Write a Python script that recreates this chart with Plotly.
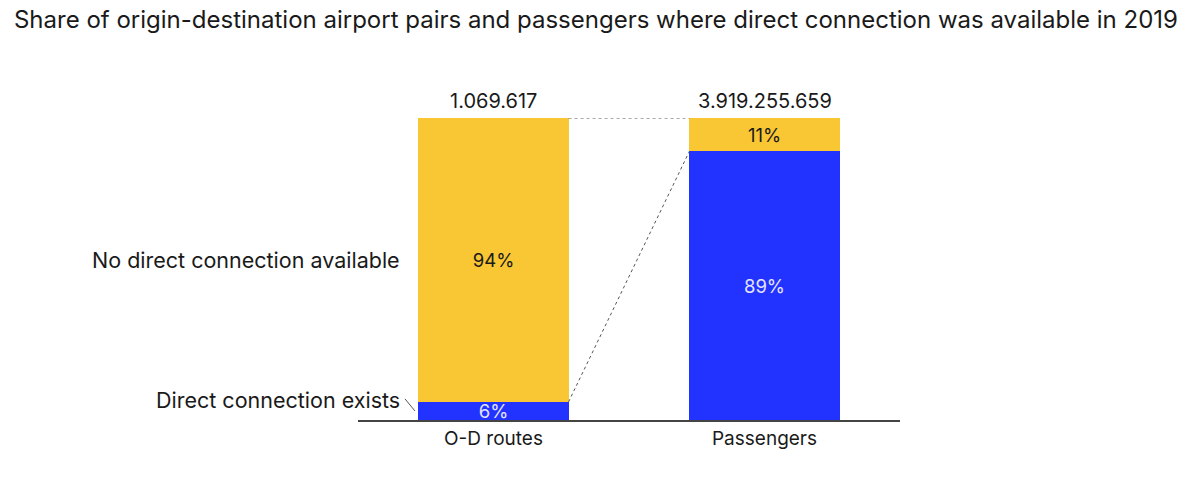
import plotly.graph_objects as go

categories = ["O-D routes", "Passengers"]
direct_share = [6, 89]
no_direct_share = [94, 11]
totals = ["1.069.617", "3.919.255.659"]
series_names = ["Direct connection exists", "No direct connection available"]

YELLOW = "#F9C733"
BLUE = "#2233FF"
FONT = "Inter"
DARK = "#1a1a1a"
bar_w = 0.554

fig = go.Figure()
fig.add_trace(go.Bar(
    x=categories, y=direct_share, width=bar_w, name=series_names[0],
    marker=dict(color=BLUE, line=dict(width=0)),
    text=[f"{v}%" for v in direct_share], textposition="inside",
    insidetextanchor="middle", textangle=0,
    textfont=dict(color="#E4E4FF", size=18.5, family=FONT),
))
fig.add_trace(go.Bar(
    x=categories, y=no_direct_share, width=bar_w, name=series_names[1],
    marker=dict(color=YELLOW, line=dict(width=0)),
    text=[f"{v}%" for v in no_direct_share], textposition="inside",
    insidetextanchor="middle", textangle=0,
    textfont=dict(color=DARK, size=18.5, family=FONT),
))

# dotted connectors between the bars
x_left = 0 + bar_w / 2
x_right = 1 - bar_w / 2
tops = [d + n for d, n in zip(direct_share, no_direct_share)]
for ys in ([tops[0], tops[1]], [direct_share[0], direct_share[1]]):
    fig.add_trace(go.Scatter(
        x=[x_left, x_right], y=ys, mode="lines", xaxis="x2",
        line=dict(color="#555555", width=1, dash="dot"), hoverinfo="skip",
    ))

# totals above bars
for c, t, top in zip(categories, totals, tops):
    fig.add_annotation(x=c, y=top, text=t, showarrow=False, yanchor="bottom",
                       yshift=3, font=dict(size=20, color=DARK, family=FONT))

# series labels on the left
fig.add_annotation(xref="paper", x=0.081, y=direct_share[0] + no_direct_share[0] / 2,
                   text=series_names[1], showarrow=False, xanchor="right",
                   font=dict(size=21.5, color=DARK, family=FONT))
fig.add_annotation(xref="paper", x=0.081, y=6.6,
                   text=series_names[0], showarrow=False, xanchor="right",
                   font=dict(size=21.5, color=DARK, family=FONT))
fig.add_shape(type="line", xref="paper", x0=0.0867, x1=0.105, y0=7.0, y1=3.0,
              line=dict(color="#555555", width=1))

fig.update_layout(
    width=1192, height=482,
    margin=dict(l=350, r=300, t=110, b=70),
    plot_bgcolor="white", paper_bgcolor="white",
    barmode="stack", showlegend=False,
    uniformtext=dict(minsize=18.5, mode="show"),
    title=dict(text="Share of origin-destination airport pairs and passengers where direct connection was available in 2019",
               x=0.005, xanchor="left", y=0.994, yanchor="top", pad=dict(t=0),
               font=dict(size=24, color=DARK, family=FONT)),
    xaxis=dict(showline=True, linecolor="#444444", linewidth=1.5, ticks="",
               tickfont=dict(size=19, color=DARK, family=FONT),
               range=[-0.5, 1.5], fixedrange=True),
    xaxis2=dict(overlaying="x", range=[-0.5, 1.5], visible=False),
    yaxis=dict(range=[0, 100], visible=False, showgrid=False),
    font=dict(family=FONT),
)

fig.write_html("out.html")
